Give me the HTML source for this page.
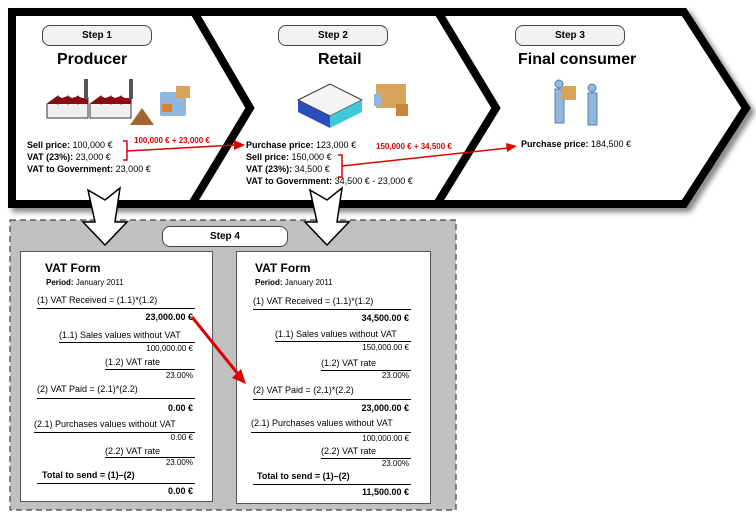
<!DOCTYPE html>
<html><head><meta charset="utf-8"><style>
body{margin:0;width:756px;height:514px;background:#fff;position:relative;overflow:hidden;font-family:"Liberation Sans",sans-serif;}
.t{position:absolute;white-space:nowrap;color:#000;}
.b{font-weight:bold}
.s{font-size:9px}
.pill{position:absolute;height:19px;border:1px solid #444;border-radius:8px;background:#f2f2f2;font-size:10px;font-weight:bold;text-align:center;line-height:19px;}
.form{position:absolute;background:#fff;border:1px solid #555;}
.ln{position:absolute;height:0;border-top:1px solid #000;}
</style></head><body>
<svg width="756" height="514" style="position:absolute;left:0;top:0">
<defs><filter id="sh"><feGaussianBlur stdDeviation="3"/></filter></defs>
<rect x="10" y="220" width="446" height="290" fill="#c0c0c0" stroke="#444" stroke-dasharray="6,4" stroke-width="1.2"/>
<g filter="url(#sh)" opacity="0.5"><path d="M16 16 H688 L750 112 L688 208 H16 Z" fill="none" stroke="#000" stroke-width="8"/></g>
<path d="M12 12 H684 L746 108 L684 204 H12 Z" fill="#fff" stroke="#000" stroke-width="8" stroke-linejoin="miter"/>
<path d="M194 12 L250 108 L192 204" fill="none" stroke="#000" stroke-width="8"/>
<path d="M438 12 L496 108 L437 204" fill="none" stroke="#000" stroke-width="8"/>
<path d="M88 190 L105 200 L120 188 L115 222 L127 222 L105 245 L83 222 L95 222 Z" fill="#fff" stroke="#000" stroke-width="1.5"/>
<path d="M310 190 L327 200 L342 188 L337 222 L349 222 L327 245 L305 222 L317 222 Z" fill="#fff" stroke="#000" stroke-width="1.5"/>
<g>
<path d="M47 118 L47 104 L58 96 L58 104 L68 96 L68 104 L78 96 L78 104 L88 98 L88 118 Z" fill="#f0f0f0" stroke="#333"/>
<path d="M47 104 L58 96 L62 98 L68 96 L72 98 L78 96 L82 98 L88 98 L88 104 Z" fill="#8b0a14"/>
<rect x="84" y="79" width="4" height="20" fill="#555"/>
<path d="M90 118 L90 104 L101 96 L101 104 L111 96 L111 104 L121 96 L121 104 L131 98 L131 118 Z" fill="#f0f0f0" stroke="#333"/>
<path d="M90 104 L101 96 L105 98 L111 96 L115 98 L121 96 L125 98 L131 98 L131 104 Z" fill="#8b0a14"/>
<rect x="129" y="79" width="4" height="20" fill="#555"/>
<path d="M130 125 L142 108 L154 125 Z" fill="#a0662a"/>
<rect x="160" y="92" width="26" height="24" fill="#8fb7df" rx="2"/><rect x="176" y="86" width="14" height="12" fill="#d9a45a"/><rect x="162" y="104" width="10" height="8" fill="#e08030"/>
</g>
<path d="M298 100 L330 84 L362 100 L330 116 Z" fill="#f4f4f4" stroke="#333"/>
<path d="M298 100 L330 116 L330 128 L298 112 Z" fill="#2a4fb8"/>
<path d="M330 116 L362 100 L362 112 L330 128 Z" fill="#40c8d8"/>
<rect x="376" y="84" width="30" height="24" fill="#d9a45a"/><rect x="374" y="94" width="8" height="12" fill="#8fb7df"/><rect x="396" y="104" width="12" height="12" fill="#c8853a"/>
<g fill="#8fb7df" stroke="#5a7fa8"><circle cx="559" cy="84" r="4"/><rect x="555" y="89" width="9" height="34"/><circle cx="592" cy="88" r="4"/><rect x="588" y="93" width="9" height="32"/></g>
<rect x="562" y="86" width="14" height="14" fill="#d9a45a"/>
<g stroke="#e00000" stroke-width="1.5" fill="none">
<path d="M123 141 H127 V160 H123 M127 151 L236 145"/>
<path d="M338 155 H342 V177 H338 M342 166 L508 148"/>
</g>
<path d="M245 145 L234 140 L234 150 Z" fill="#e00000"/>
<path d="M517 146 L506 143 L507 152 Z" fill="#e00000"/>
</svg>

<div class="pill" style="left:42px;top:25px;width:108px">Step 1</div>
<div class="pill" style="left:278px;top:25px;width:108px">Step 2</div>
<div class="pill" style="left:515px;top:25px;width:108px">Step 3</div>
<div class="pill" style="left:162px;top:226px;width:124px;background:#fff">Step 4</div>

<div class="t b" style="left:57px;top:51px;font-size:16px">Producer</div>
<div class="t b" style="left:318px;top:51px;font-size:16px">Retail</div>
<div class="t b" style="left:518px;top:51px;font-size:16px">Final consumer</div>

<div class="t s" style="left:27px;top:139px;line-height:12px"><b>Sell price:</b> 100,000 €<br><b>VAT (23%):</b> 23,000 €<br><b>VAT to Government:</b> 23,000 €</div>
<div class="t b" style="left:134px;top:136px;font-size:8px;color:#e00000">100,000 € + 23,000 €</div>
<div class="t s" style="left:246px;top:139px;line-height:12px"><b>Purchase price:</b> 123,000 €<br><b>Sell price:</b> 150,000 €<br><b>VAT (23%):</b> 34,500 €<br><b>VAT to Government:</b> 34,500 € - 23,000 €</div>
<div class="t b" style="left:376px;top:142px;font-size:8px;color:#e00000">150,000 € + 34,500 €</div>
<div class="t s" style="left:521px;top:139px"><b>Purchase price:</b> 184,500 €</div>

<div class="form" style="left:20px;top:251px;width:191px;height:249px">
<div class="t b" style="left:24px;top:9px;font-size:12px">VAT Form</div>
<div class="t" style="left:25px;top:26px;font-size:8px"><b>Period:</b> January 2011</div>
<div class="t s" style="left:16px;top:43px">(1) VAT Received = (1.1)*(1.2)</div>
<div class="ln" style="left:16px;top:56px;width:158px"></div>
<div class="t s b" style="left:16px;top:60px;width:156px;text-align:right">23,000.00 €</div>
<div class="t s" style="left:38px;top:78px">(1.1) Sales values without VAT</div>
<div class="ln" style="left:38px;top:90px;width:136px"></div>
<div class="t s" style="left:16px;top:92px;width:156px;text-align:right;font-size:8px">100,000.00 €</div>
<div class="t s" style="left:84px;top:105px">(1.2) VAT rate</div>
<div class="ln" style="left:84px;top:117px;width:90px"></div>
<div class="t s" style="left:16px;top:119px;width:156px;text-align:right;font-size:8px">23.00%</div>
<div class="t s" style="left:16px;top:132px">(2) VAT Paid = (2.1)*(2.2)</div>
<div class="ln" style="left:16px;top:146px;width:158px"></div>
<div class="t s b" style="left:16px;top:151px;width:156px;text-align:right">0.00 €</div>
<div class="t s" style="left:13px;top:167px">(2.1) Purchases  values without VAT</div>
<div class="ln" style="left:13px;top:180px;width:161px"></div>
<div class="t s" style="left:16px;top:181px;width:156px;text-align:right;font-size:8px">0.00 €</div>
<div class="t s" style="left:84px;top:194px">(2.2) VAT rate</div>
<div class="ln" style="left:84px;top:205px;width:90px"></div>
<div class="t s" style="left:16px;top:206px;width:156px;text-align:right;font-size:8px">23.00%</div>
<div class="t s b" style="left:21px;top:218px">Total to send = (1)–(2)</div>
<div class="ln" style="left:16px;top:231px;width:158px"></div>
<div class="t s b" style="left:16px;top:234px;width:156px;text-align:right">0.00 €</div>
</div>

<div class="form" style="left:236px;top:251px;width:193px;height:251px">
<div class="t b" style="left:18px;top:9px;font-size:12px">VAT Form</div>
<div class="t" style="left:18px;top:26px;font-size:8px"><b>Period:</b> January 2011</div>
<div class="t s" style="left:16px;top:44px">(1) VAT Received = (1.1)*(1.2)</div>
<div class="ln" style="left:16px;top:57px;width:158px"></div>
<div class="t s b" style="left:16px;top:61px;width:156px;text-align:right">34,500.00 €</div>
<div class="t s" style="left:38px;top:77px">(1.1) Sales values without VAT</div>
<div class="ln" style="left:38px;top:89px;width:136px"></div>
<div class="t s" style="left:16px;top:91px;width:156px;text-align:right;font-size:8px">150,000.00 €</div>
<div class="t s" style="left:84px;top:106px">(1.2) VAT rate</div>
<div class="ln" style="left:84px;top:118px;width:90px"></div>
<div class="t s" style="left:16px;top:119px;width:156px;text-align:right;font-size:8px">23.00%</div>
<div class="t s" style="left:16px;top:133px">(2) VAT Paid = (2.1)*(2.2)</div>
<div class="ln" style="left:16px;top:147px;width:158px"></div>
<div class="t s b" style="left:16px;top:151px;width:156px;text-align:right">23,000.00 €</div>
<div class="t s" style="left:14px;top:166px">(2.1) Purchases  values without VAT</div>
<div class="ln" style="left:14px;top:180px;width:160px"></div>
<div class="t s" style="left:16px;top:182px;width:156px;text-align:right;font-size:8px">100,000.00 €</div>
<div class="t s" style="left:84px;top:194px">(2.2) VAT rate</div>
<div class="ln" style="left:84px;top:206px;width:90px"></div>
<div class="t s" style="left:16px;top:207px;width:156px;text-align:right;font-size:8px">23.00%</div>
<div class="t s b" style="left:20px;top:219px">Total to send = (1)–(2)</div>
<div class="ln" style="left:16px;top:232px;width:158px"></div>
<div class="t s b" style="left:16px;top:235px;width:156px;text-align:right">11,500.00 €</div>
</div>

<svg width="756" height="514" style="position:absolute;left:0;top:0;pointer-events:none">
<path d="M192 317 L238 374" stroke="#e00000" stroke-width="3" fill="none"/>
<path d="M246 384 L232 378 L241 369 Z" fill="#e00000"/>
</svg>
</body></html>
